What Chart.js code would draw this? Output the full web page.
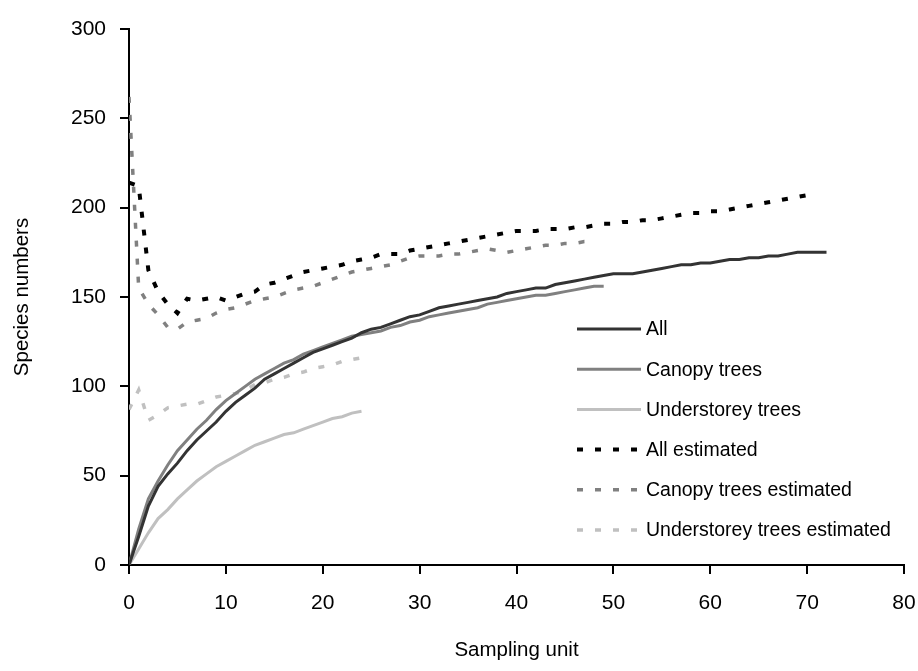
<!DOCTYPE html>
<html>
<head>
<meta charset="utf-8">
<script src="https://cdn.jsdelivr.net/npm/chart.js@4"></script>
<style>
  html, body { margin: 0; padding: 0; background: #fff; }
  #wrap { width: 918px; height: 671px; }
</style>
</head>
<body>
<div id="wrap"><canvas id="curves" width="918" height="671"></canvas></div>
<script>
// species accumulation curves, values read per sampling unit (index = unit)
const allObserved = [0, 16, 33, 44, 51, 57, 64, 70, 75, 80, 86, 91, 95, 99, 104, 107, 110, 113, 116, 119,
  121, 123, 125, 127, 130, 132, 133, 135, 137, 139, 140, 142, 144, 145, 146, 147, 148, 149, 150, 152,
  153, 154, 155, 155, 157, 158, 159, 160, 161, 162, 163, 163, 163, 164, 165, 166, 167, 168, 168, 169,
  169, 170, 171, 171, 172, 172, 173, 173, 174, 175, 175, 175, 175];
const canopyObserved = [0, 20, 37, 47, 56, 64, 70, 76, 81, 87, 92, 96, 100, 104, 107, 110, 113, 115, 118, 120,
  122, 124, 126, 128, 129, 130, 131, 133, 134, 136, 137, 139, 140, 141, 142, 143, 144, 146, 147, 148,
  149, 150, 151, 151, 152, 153, 154, 155, 156, 156];
const underObserved = [0, 9, 18, 26, 31, 37, 42, 47, 51, 55, 58, 61, 64, 67, 69, 71, 73, 74, 76, 78,
  80, 82, 83, 85, 86];
const allEstimated = [214, 212, 165, 153, 146, 141, 149, 148, 149, 150, 148, 150, 152, 153, 157, 158, 160, 162, 164, 165,
  166, 167, 168, 170, 171, 172, 174, 174, 174, 176, 177, 178, 179, 180, 181, 182, 183, 184, 185, 186,
  187, 187, 187, 188, 188, 188, 189, 189, 190, 191, 191, 192, 192, 193, 193, 194, 195, 196, 197, 197,
  198, 198, 199, 200, 201, 202, 203, 204, 205, 206, 207];
const canopyEstimated = [262, 155, 146, 140, 133, 132, 136, 137, 138, 141, 143, 144, 146, 148, 149, 150, 152, 154, 155, 156,
  158, 160, 162, 164, 165, 166, 167, 168, 170, 172, 173, 173, 173, 174, 174, 175, 176, 177, 176, 175,
  176, 177, 178, 179, 179, 180, 180, 181, 181];
const underEstimated = [87, 98, 81, 84, 88, 89, 90, 90, 92, 94, 95, 96, 98, 101, 102, 104, 105, 107, 108, 110,
  111, 112, 114, 115, 116];

const seriesNames = ['All', 'Canopy trees', 'Understorey trees', 'All estimated', 'Canopy trees estimated', 'Understorey trees estimated'];
const xTicks = [0, 10, 20, 30, 40, 50, 60, 70, 80];
const yTicks = [0, 50, 100, 150, 200, 250, 300];

const FONT = "'Liberation Sans', Arial, sans-serif";

function toPoints(arr) {
  return arr.map((v, i) => ({ x: i, y: v }));
}

const styles = [
  { color: '#333333', dash: [], width: 3 },
  { color: '#808080', dash: [], width: 3 },
  { color: '#c0c0c0', dash: [], width: 3 },
  { color: '#000000', dash: [6, 12], width: 4 },
  { color: '#808080', dash: [6, 12], width: 3.5 },
  { color: '#c0c0c0', dash: [6, 12], width: 3.5 }
];
const seriesData = [allObserved, canopyObserved, underObserved, allEstimated, canopyEstimated, underEstimated];

const datasets = seriesData.map((arr, k) => ({
  label: seriesNames[k],
  data: toPoints(arr),
  borderColor: styles[k].color,
  borderWidth: styles[k].width,
  borderDash: styles[k].dash,
  borderCapStyle: 'butt',
  pointRadius: 0,
  tension: 0,
  fill: false
}));

// legend drawn inside the plot, sample line then text
const sideLegend = {
  id: 'sideLegend',
  afterDraw(chart) {
    const ctx = chart.ctx;
    ctx.save();
    ctx.font = '19.5px ' + FONT;
    ctx.textBaseline = 'middle';
    ctx.fillStyle = '#000';
    seriesNames.forEach((name, k) => {
      const y = 329 + k * 40.2;
      ctx.beginPath();
      ctx.strokeStyle = styles[k].color;
      ctx.lineWidth = styles[k].width;
      ctx.setLineDash(styles[k].dash);
      ctx.moveTo(577, y);
      ctx.lineTo(641, y);
      ctx.stroke();
      ctx.setLineDash([]);
      ctx.fillText(name, 646, y + 1);
    });
    ctx.restore();
  }
};

new Chart(document.getElementById('curves'), {
  type: 'line',
  data: { datasets: datasets },
  options: {
    responsive: false,
    animation: false,
    layout: { padding: { top: 29, right: 14, left: 0, bottom: 0 } },
    plugins: { legend: { display: false }, tooltip: { enabled: false } },
    scales: {
      x: {
        type: 'linear',
        min: 0, max: 80,
        afterBuildTicks: (s) => { s.ticks = xTicks.map(v => ({ value: v })); },
        afterFit: (s) => { s.height = 106; s.paddingLeft = 0; s.paddingRight = 0; },
        border: { display: true, color: '#000', width: 2 },
        grid: { drawOnChartArea: false, drawTicks: true, tickLength: 9, color: '#000', lineWidth: 2 },
        ticks: { color: '#000', font: { family: FONT, size: 21 }, padding: 17, maxRotation: 0 },
        title: { display: true, text: 'Sampling unit', color: '#000', font: { family: FONT, size: 20.5 }, padding: { top: 4, bottom: 8 } }
      },
      y: {
        min: 0, max: 300,
        afterBuildTicks: (s) => { s.ticks = yTicks.map(v => ({ value: v })); },
        afterFit: (s) => { s.width = 129; s.paddingTop = 0; s.paddingBottom = 0; },
        border: { display: true, color: '#000', width: 2 },
        grid: { drawOnChartArea: false, drawTicks: true, tickLength: 9, color: '#000', lineWidth: 2 },
        ticks: { color: '#000', font: { family: FONT, size: 21 }, padding: 14 },
        title: { display: true, text: 'Species numbers', color: '#000', font: { family: FONT, size: 20.5 }, padding: { top: 10, bottom: 4 } }
      }
    }
  },
  plugins: [sideLegend]
});
</script>
</body>
</html>
